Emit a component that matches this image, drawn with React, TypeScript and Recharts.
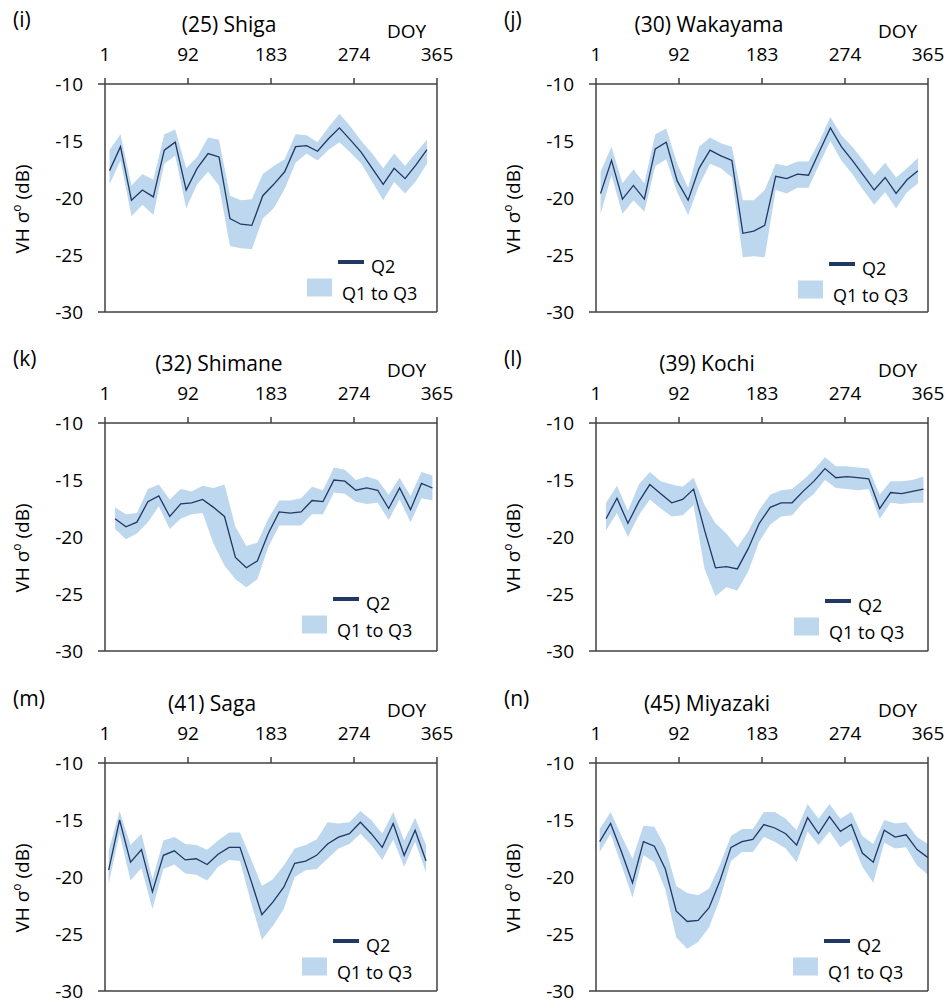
import React from 'react';
import { ComposedChart, Area, Line, XAxis, YAxis, ReferenceLine, Legend } from 'recharts';

const FONT = '"Open Sans", "Noto Sans", sans-serif';
const AXIS = '#404040';
const LINE_COLOR = '#1F3864';
const BAND_COLOR = '#BDD7EE';

const DOY_TICKS = [1, 92, 183, 274, 365];
const Y_TICKS = [-30, -25, -20, -15, -10];

const DOY_A = [6, 18, 30, 42, 54, 66, 78, 90, 102, 114, 126, 138, 150, 162, 174, 186, 198, 210, 222, 234, 246, 258, 270, 282, 294, 306, 318, 330, 342, 354];
const DOY_B = [12, 24, 36, 48, 60, 72, 84, 96, 108, 120, 132, 144, 156, 168, 180, 192, 204, 216, 228, 240, 252, 264, 276, 288, 300, 312, 324, 336, 348, 360];
const DOY_C = [5, 17, 29, 41, 53, 65, 77, 89, 101, 113, 125, 137, 149, 161, 173, 185, 197, 209, 221, 233, 245, 257, 269, 281, 293, 305, 317, 329, 341, 353];
const DOY_D = [5, 17, 29, 41, 53, 65, 77, 89, 101, 113, 125, 137, 149, 161, 173, 185, 197, 209, 221, 233, 245, 257, 269, 281, 293, 305, 317, 329, 341, 353, 365];

// (25) Shiga
const SHIGA_Q2 = [-17.6, -15.5, -20.2, -19.3, -19.9, -15.8, -15.1, -19.3, -17.4, -16.1, -16.4, -21.8, -22.3, -22.4, -19.8, -18.8, -17.7, -15.5, -15.4, -15.9, -14.8, -13.85, -14.9, -16.0, -17.4, -18.8, -17.4, -18.3, -17.1, -15.75];
const SHIGA_Q3 = [-15.8, -14.4, -18.9, -17.9, -18.4, -14.4, -14.0, -17.4, -16.4, -14.7, -14.9, -19.8, -20.2, -20.1, -17.9, -17.2, -16.6, -14.4, -14.5, -15.1, -13.8, -12.6, -13.7, -15.0, -16.1, -17.4, -16.1, -17.2, -16.0, -14.9];
const SHIGA_Q1 = [-18.8, -16.7, -21.6, -20.6, -21.5, -17.0, -16.3, -20.9, -18.8, -17.7, -18.9, -24.2, -24.4, -24.5, -21.8, -20.9, -19.2, -16.9, -16.1, -16.7, -15.8, -15.1, -16.0, -17.0, -18.6, -20.2, -18.6, -19.6, -18.5, -17.0];

// (30) Wakayama
const WAKAYAMA_Q2 = [-19.6, -16.7, -20.1, -18.9, -20.1, -15.7, -15.1, -18.5, -20.2, -17.4, -15.8, -16.3, -16.7, -23.1, -22.9, -22.4, -18.1, -18.3, -17.9, -18.0, -15.9, -13.85, -15.5, -16.7, -18.0, -19.3, -18.2, -19.6, -18.4, -17.6];
const WAKAYAMA_Q3 = [-17.7, -15.5, -18.7, -17.5, -18.7, -14.4, -13.9, -17.0, -19.1, -15.5, -14.7, -15.2, -15.5, -20.2, -20.2, -19.3, -17.0, -17.2, -16.8, -16.8, -15.0, -12.9, -14.5, -15.5, -16.7, -18.0, -16.9, -18.2, -17.4, -16.5];
const WAKAYAMA_Q1 = [-21.4, -18.0, -21.4, -20.2, -21.2, -17.2, -16.6, -19.5, -21.5, -18.9, -17.0, -17.4, -18.2, -25.2, -25.1, -25.2, -19.3, -19.6, -19.1, -19.1, -17.0, -15.0, -16.7, -17.9, -19.3, -20.6, -19.5, -20.9, -19.5, -18.7];

// (32) Shimane
const SHIMANE_Q2 = [-18.4, -19.1, -18.7, -16.9, -16.4, -18.2, -17.1, -17.0, -16.7, -17.4, -18.2, -21.8, -22.7, -22.1, -19.7, -17.8, -17.9, -17.8, -16.8, -16.9, -15.0, -15.1, -15.9, -15.7, -15.9, -17.5, -15.7, -17.6, -15.3, -15.7];
const SHIMANE_Q3 = [-17.4, -18.0, -17.9, -15.8, -15.4, -16.7, -15.8, -16.0, -15.5, -15.7, -15.4, -19.1, -20.8, -20.5, -18.4, -16.8, -16.8, -16.6, -15.6, -15.9, -13.9, -14.1, -15.0, -14.7, -15.0, -16.3, -14.8, -16.4, -14.3, -14.6];
const SHIMANE_Q1 = [-19.3, -20.2, -19.7, -18.7, -17.3, -19.3, -18.4, -18.0, -17.9, -20.6, -22.5, -23.7, -24.4, -23.7, -20.9, -19.0, -19.0, -19.0, -18.0, -18.0, -16.1, -16.2, -16.9, -17.1, -17.0, -18.5, -16.7, -18.7, -16.6, -16.8];

// (39) Kochi
const KOCHI_Q2 = [-18.4, -16.6, -18.8, -16.9, -15.4, -16.2, -17.0, -16.7, -15.8, -19.4, -22.7, -22.6, -22.8, -21.0, -18.8, -17.4, -17.0, -17.0, -16.0, -15.1, -14.0, -14.8, -14.7, -14.8, -14.9, -17.5, -16.1, -16.2, -16.0, -15.8];
const KOCHI_Q3 = [-17.0, -15.5, -17.7, -15.4, -14.3, -15.1, -15.4, -15.6, -14.8, -17.2, -18.8, -19.7, -20.9, -19.5, -17.6, -16.3, -15.9, -15.8, -15.0, -14.1, -13.0, -13.8, -13.8, -13.9, -14.0, -16.3, -15.1, -15.1, -15.0, -14.7];
const KOCHI_Q1 = [-19.4, -17.9, -20.0, -18.1, -16.7, -17.5, -18.2, -18.1, -17.2, -22.8, -25.2, -24.4, -24.7, -23.0, -20.4, -18.9, -18.2, -18.1, -17.0, -16.2, -15.0, -15.7, -15.8, -15.9, -15.8, -18.4, -17.0, -17.1, -17.0, -17.0];

// (41) Saga
const SAGA_Q2 = [-19.4, -15.0, -18.7, -17.6, -21.3, -18.1, -17.7, -18.5, -18.4, -18.9, -18.0, -17.4, -17.4, -20.3, -23.3, -22.2, -20.9, -18.8, -18.6, -18.1, -17.1, -16.5, -16.2, -15.2, -16.2, -17.4, -15.3, -18.1, -15.9, -18.6];
const SAGA_Q3 = [-17.7, -14.2, -17.2, -16.2, -20.2, -16.8, -16.5, -17.1, -17.2, -17.6, -16.8, -16.1, -16.1, -18.4, -20.8, -20.2, -19.0, -17.5, -17.2, -16.7, -15.2, -15.3, -15.2, -14.2, -15.0, -16.2, -14.3, -16.8, -14.8, -17.2];
const SAGA_Q1 = [-20.6, -16.2, -20.3, -19.2, -22.8, -19.3, -18.9, -19.7, -19.8, -20.3, -19.1, -18.5, -18.6, -22.2, -25.5, -24.3, -22.8, -20.0, -19.4, -19.3, -18.4, -17.5, -17.1, -16.2, -17.2, -18.5, -16.7, -19.1, -16.9, -19.6];

// (45) Miyazaki
const MIYAZAKI_Q2 = [-16.9, -15.3, -17.8, -20.5, -16.9, -17.3, -19.3, -23.0, -23.9, -23.8, -22.7, -20.3, -17.4, -16.9, -16.7, -15.4, -15.7, -16.2, -17.2, -14.8, -16.2, -14.7, -16.0, -15.4, -17.9, -18.7, -15.9, -16.5, -16.3, -17.6, -18.3];
const MIYAZAKI_Q3 = [-15.8, -14.3, -16.4, -18.4, -15.5, -15.6, -17.4, -20.8, -21.4, -21.6, -21.0, -18.9, -16.4, -15.8, -15.8, -14.3, -14.3, -14.9, -15.9, -13.6, -14.9, -13.6, -14.9, -14.3, -16.4, -17.1, -15.0, -15.3, -15.2, -16.5, -17.1];
const MIYAZAKI_Q1 = [-17.8, -16.2, -19.0, -21.8, -18.1, -18.7, -21.1, -25.3, -26.3, -25.7, -24.4, -21.9, -18.6, -17.8, -17.8, -16.5, -16.9, -17.5, -18.7, -16.0, -17.2, -16.0, -17.4, -16.7, -19.1, -20.5, -17.0, -17.5, -17.4, -19.0, -19.8];

const CH_W = 459;
const CH_H = 330;
const MARGIN = { top: 54, right: 22, bottom: 18, left: 45 };
const Y_AXIS_W = 60;
const X_AXIS_H = 30;
const PLOT_LEFT = MARGIN.left + Y_AXIS_W; // 105
const PLOT_RIGHT = CH_W - MARGIN.right; // 437
const PLOT_TOP = MARGIN.top + X_AXIS_H; // 84
const PLOT_BOTTOM = CH_H - MARGIN.bottom; // 312

type Panel = {
  letter: string;
  title: string;
  doy: number[];
  q1: number[];
  q2: number[];
  q3: number[];
  left: number;
  top: number;
  titleDx: number;
  legendDx: number;
  legendDy: number;
};

const PANELS: Panel[] = [
  { letter: '(i)', title: '(25) Shiga', doy: DOY_A, q1: SHIGA_Q1, q2: SHIGA_Q2, q3: SHIGA_Q3, left: 0, top: 0, titleDx: 124, legendDx: 0, legendDy: 0 },
  { letter: '(j)', title: '(30) Wakayama', doy: DOY_A, q1: WAKAYAMA_Q1, q2: WAKAYAMA_Q2, q3: WAKAYAMA_Q3, left: 491, top: 0, titleDx: 113, legendDx: 0, legendDy: 2 },
  { letter: '(k)', title: '(32) Shimane', doy: DOY_B, q1: SHIMANE_Q1, q2: SHIMANE_Q2, q3: SHIMANE_Q3, left: 0, top: 339, titleDx: 114, legendDx: -5, legendDy: -2 },
  { letter: '(l)', title: '(39) Kochi', doy: DOY_B, q1: KOCHI_Q1, q2: KOCHI_Q2, q3: KOCHI_Q3, left: 491, top: 339, titleDx: 111, legendDx: -4, legendDy: 0 },
  { letter: '(m)', title: '(41) Saga', doy: DOY_C, q1: SAGA_Q1, q2: SAGA_Q2, q3: SAGA_Q3, left: 0, top: 679, titleDx: 107, legendDx: -5, legendDy: 0 },
  { letter: '(n)', title: '(45) Miyazaki', doy: DOY_D, q1: MIYAZAKI_Q1, q2: MIYAZAKI_Q2, q3: MIYAZAKI_Q3, left: 491, top: 679, titleDx: 111, legendDx: -5, legendDy: 0 },
];

const XTick = (props: any) => {
  const { x, y, payload } = props;
  return (
    <text x={x} y={y} textAnchor="middle" fontSize={19} fontFamily={FONT} fill="#000">
      {payload.value}
    </text>
  );
};

const YTick = (props: any) => {
  const { x, y, payload } = props;
  const axisX = x + 22;
  const edge = payload.value === -10 || payload.value === -30;
  return (
    <g>
      {edge && <line x1={axisX - 7} x2={axisX} y1={y} y2={y} stroke={AXIS} strokeWidth={1.5} />}
      <text x={x} y={y} dy="0.36em" textAnchor="end" fontSize={19} fontFamily={FONT} fill="#000">
        {payload.value}
      </text>
    </g>
  );
};

const makeXLabel = (panel: Panel) => (props: any) => {
  const vb = props.viewBox || { x: PLOT_LEFT, y: MARGIN.top, width: PLOT_RIGHT - PLOT_LEFT, height: X_AXIS_H };
  const plotTop = vb.y + vb.height;
  const plotLeft = vb.x;
  const plotRight = vb.x + vb.width;
  return (
    <g>
      <text x={plotLeft - 92} y={plotTop - 57} fontSize={21} fontFamily={FONT} fill="#000">{panel.letter}</text>
      <text x={plotLeft + panel.titleDx} y={plotTop - 52} textAnchor="middle" fontSize={21} fontFamily={FONT} fill="#000">{panel.title}</text>
      <text x={plotRight - 30.5} y={plotTop - 46.5} textAnchor="middle" fontSize={19} fontFamily={FONT} fill="#000">DOY</text>
    </g>
  );
};

const YLabel = (props: any) => {
  const vb = props.viewBox || { x: MARGIN.left, y: PLOT_TOP, width: Y_AXIS_W, height: PLOT_BOTTOM - PLOT_TOP };
  const cx = vb.x + vb.width - 83;
  const cy = vb.y + vb.height / 2 + 11;
  return (
    <text transform={`translate(${cx},${cy}) rotate(-90)`} textAnchor="middle" dy="0.36em" fontSize={19} fontFamily={FONT} fill="#000">
      VH σ<tspan fontSize={12} dy={-8}>o</tspan><tspan dy={8}> (dB)</tspan>
    </text>
  );
};

const LegendBox = () => (
  <svg width={140} height={60} style={{ display: 'block', overflow: 'visible' }}>
    <line x1={41} x2={67} y1={10} y2={10} stroke={LINE_COLOR} strokeWidth={4} />
    <text x={74} y={15} dy="0.36em" fontSize={18} fontFamily={FONT} fill="#000">Q2</text>
    <rect x={10} y={26.5} width={25} height={18} fill={BAND_COLOR} />
    <text x={45} y={42} dy="0.36em" fontSize={18} fontFamily={FONT} fill="#000">Q1 to Q3</text>
  </svg>
);

const PanelChart = ({ panel }: { panel: Panel }) => {
  const data = panel.doy.map((d, i) => ({ doy: d, q2: panel.q2[i], band: [panel.q1[i], panel.q3[i]] }));
  return (
    <div style={{ position: 'absolute', left: panel.left, top: panel.top, width: CH_W, height: CH_H }}>
      <ComposedChart width={CH_W} height={CH_H} data={data} margin={MARGIN}>
        <XAxis
          dataKey="doy"
          type="number"
          orientation="top"
          domain={[1, 365]}
          ticks={DOY_TICKS}
          interval={0}
          height={X_AXIS_H}
          axisLine={{ stroke: AXIS, strokeWidth: 1.5 }}
          tickLine={{ stroke: AXIS, strokeWidth: 1.5 }}
          tickSize={6}
          tickMargin={17}
          tick={<XTick />}
          allowDataOverflow
          label={makeXLabel(panel)}
        />
        <YAxis
          type="number"
          domain={[-30, -10]}
          ticks={Y_TICKS}
          interval={0}
          width={Y_AXIS_W}
          axisLine={{ stroke: AXIS, strokeWidth: 1.5 }}
          tickLine={false}
          tickSize={0}
          tickMargin={22}
          tick={<YTick />}
          allowDataOverflow
          label={(p: any) => <YLabel {...p} />}
        />
        <Area
          dataKey="band"
          type="linear"
          stroke="none"
          fill={BAND_COLOR}
          fillOpacity={1}
          isAnimationActive={false}
          activeDot={false}
          name="Q1 to Q3"
        />
        <Line
          dataKey="q2"
          type="linear"
          stroke={LINE_COLOR}
          strokeWidth={1.3}
          dot={false}
          activeDot={false}
          isAnimationActive={false}
          name="Q2"
        />
        <ReferenceLine x={365} stroke={AXIS} strokeWidth={1.5} />
        <ReferenceLine y={-30} stroke={AXIS} strokeWidth={1.5} />
        <Legend
          layout="horizontal"
          verticalAlign="middle"
          align="center"
          content={() => <LegendBox />}
          wrapperStyle={{
            left: PLOT_RIGHT - 140 + panel.legendDx,
            top: PLOT_BOTTOM - 60 + panel.legendDy,
            width: 140,
            height: 60,
          }}
        />
      </ComposedChart>
    </div>
  );
};

export default function App() {
  return (
    <div
      style={{
        position: 'absolute',
        left: 0,
        top: 0,
        width: 950,
        height: 1003,
        overflow: 'hidden',
        background: '#fff',
        fontFamily: FONT,
      }}
    >
      {PANELS.map((p) => (
        <PanelChart key={p.letter} panel={p} />
      ))}
    </div>
  );
}
